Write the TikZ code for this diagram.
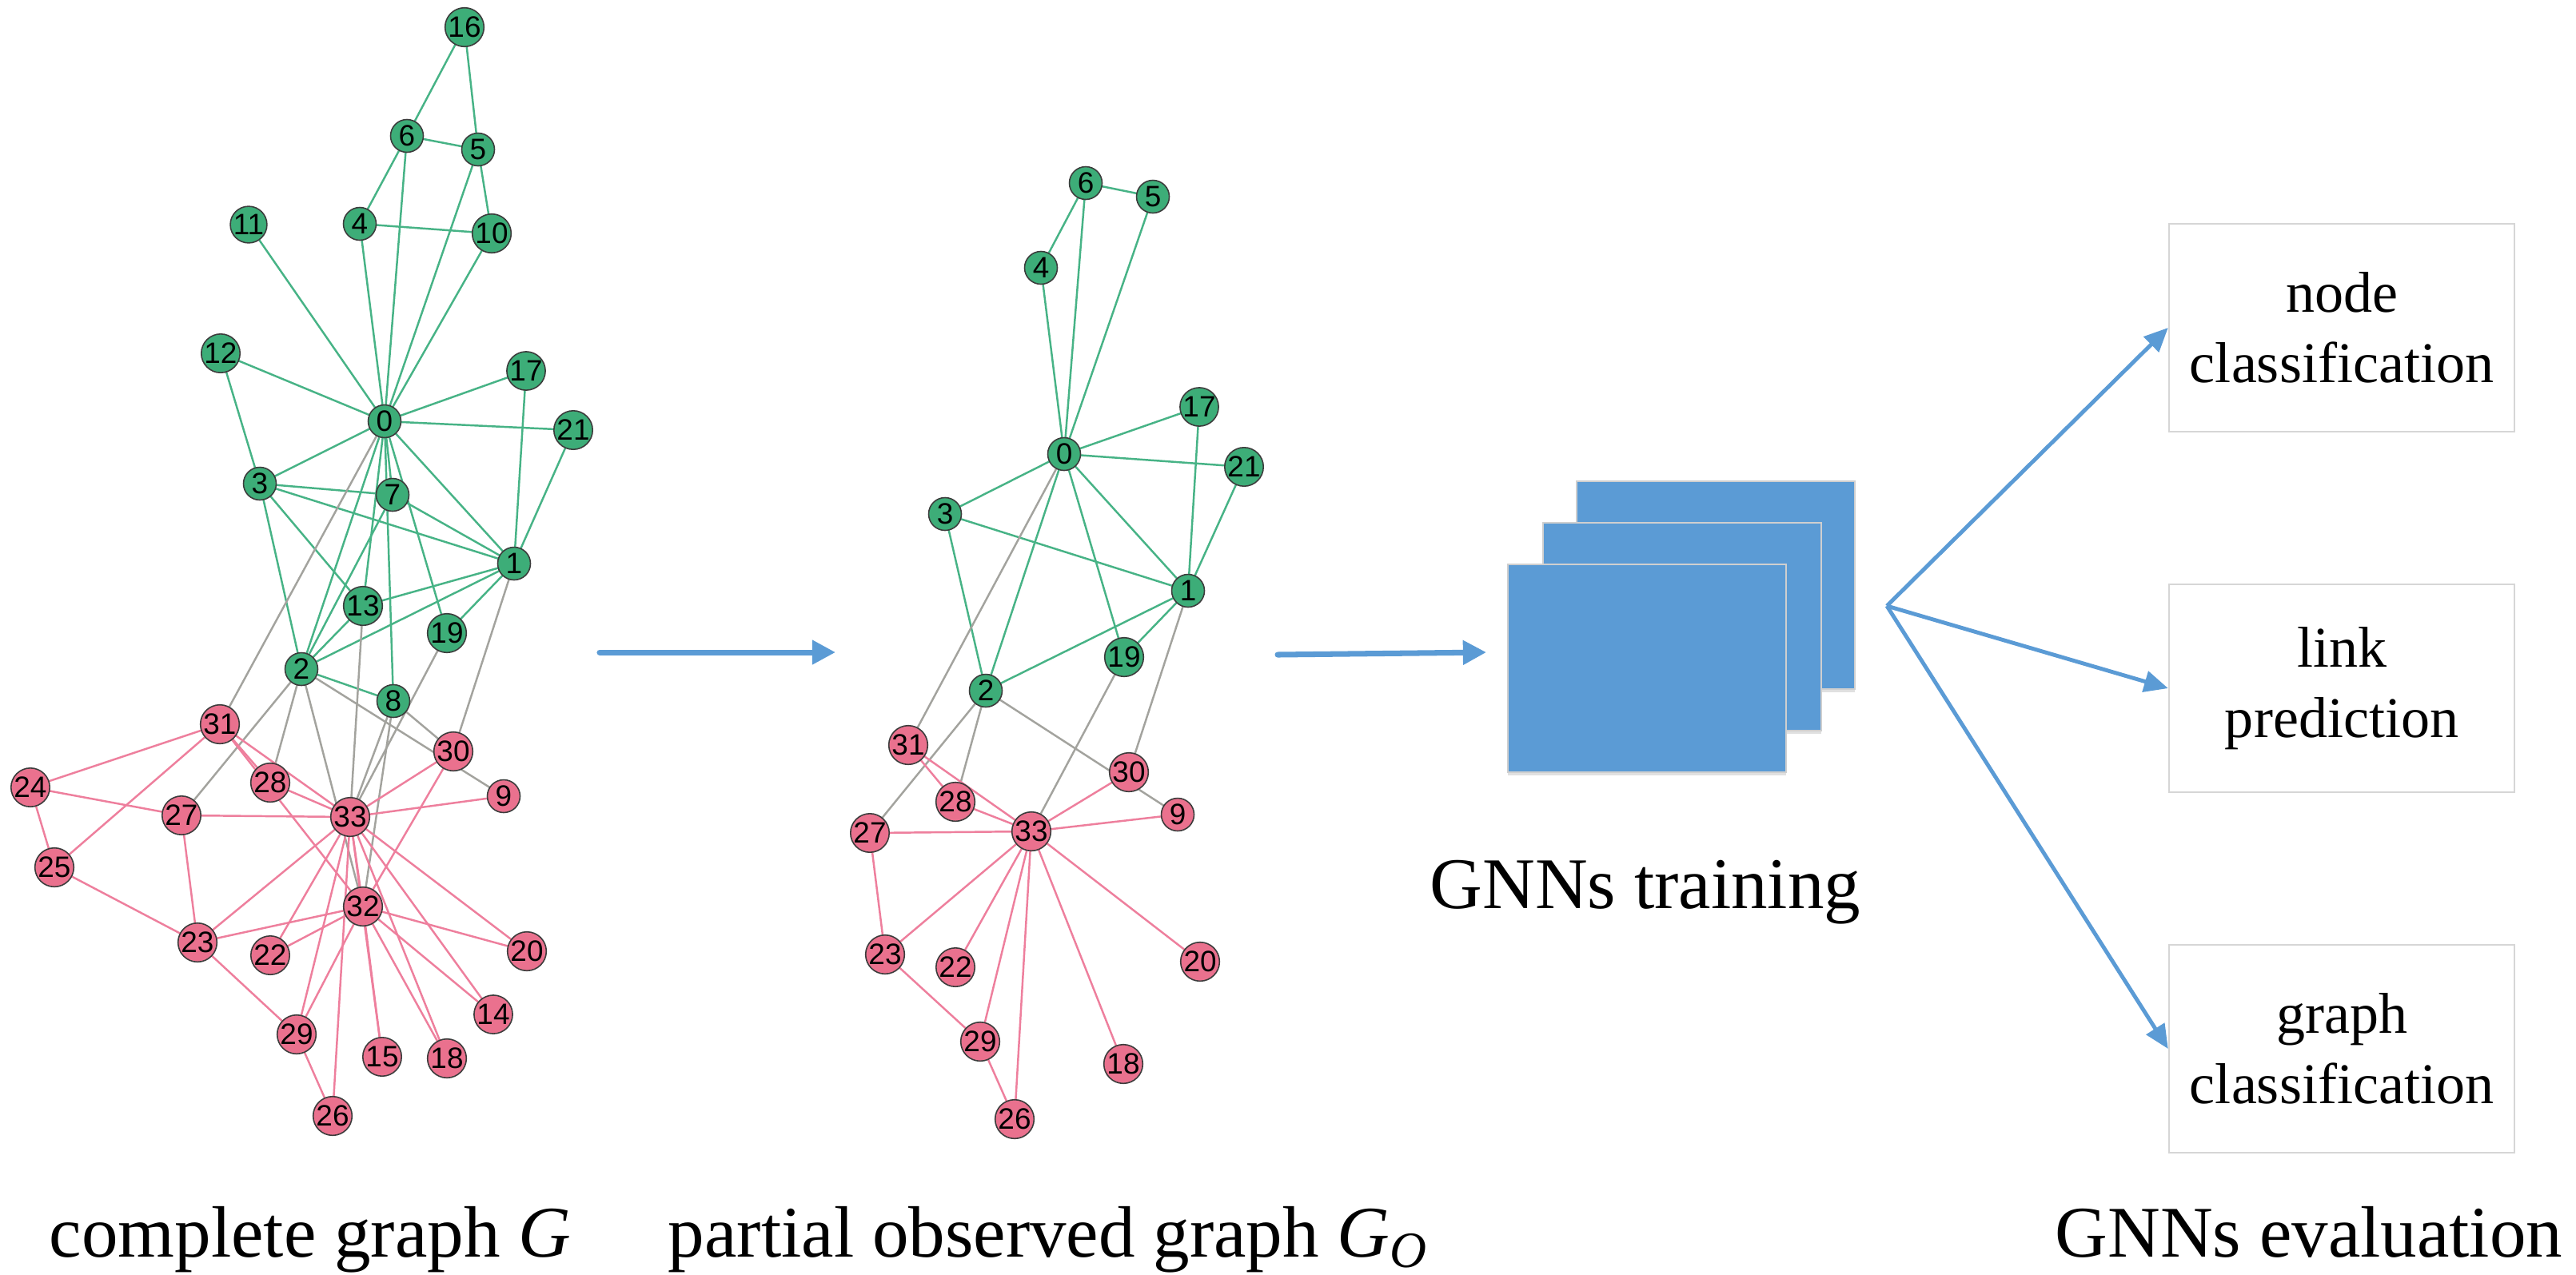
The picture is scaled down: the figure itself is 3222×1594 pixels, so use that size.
\documentclass[tikz,border=0pt]{standalone}
\usepackage{fontspec}
\setmainfont{Liberation Serif}
\newfontfamily\lblfont{Liberation Sans}
\usetikzlibrary{arrows.meta,shadows}
\pgfdeclarelayer{edges}
\pgfsetlayers{edges,main}
\definecolor{ngreen}{HTML}{3DAD78}
\definecolor{npink}{HTML}{EA718E}
\definecolor{egreen}{HTML}{47B386}
\definecolor{epink}{HTML}{EE7F9D}
\definecolor{egray}{HTML}{A3A39E}
\definecolor{nodeline}{HTML}{3C3C3C}
\definecolor{cblue}{HTML}{5B9BD5}
\definecolor{stackline}{HTML}{CFCFCF}
\definecolor{boxline}{HTML}{D6D6D6}
\begin{document}
\begin{tikzpicture}[x=0.1mm,y=-0.1mm,
  gn/.style={circle, fill=ngreen, draw=nodeline, line width=0.45pt, minimum size=4.1mm, inner sep=0pt, font=\lblfont\fontsize{10.5}{11}\selectfont},
  pn/.style={gn, fill=npink},
  ge/.style={draw=egreen, line width=0.7pt},
  pe/.style={draw=epink, line width=0.7pt},
  xe/.style={draw=egray, line width=0.7pt},
  flow/.style={draw=cblue, line width=2pt, line cap=round, -{Triangle[length=8.3pt,width=8.3pt]}},
  fork/.style={draw=cblue, line width=1.4pt, -{Triangle[length=8.5pt,width=7.5pt]}},
  layerbox/.style={rectangle, fill=cblue, draw=stackline, line width=0.6pt, minimum width=34.8mm, minimum height=26mm, inner sep=0pt, drop shadow={shadow xshift=0pt, shadow yshift=-1.2pt, opacity=0.12, fill=black}},
  task/.style={rectangle, draw=boxline, line width=0.7pt, minimum width=43.2mm, minimum height=26mm, align=center, inner sep=0pt, font=\fontsize{20.5}{25}\selectfont},
  caption/.style={anchor=base, inner sep=0pt, font=\fontsize{25.9}{30}\selectfont}
]
\useasboundingbox (0,0) rectangle (3222,1594);
\begin{pgfonlayer}{edges}
\fill[white] (0,0) rectangle (3222,1594);
\end{pgfonlayer}

% ---------- complete graph ----------
\foreach \n/\x/\y in {0/481/527,1/643/705,2/377/837,3/325/605,4/450/280,5/598/187,6/509/170,7/491/619,8/492/877,10/615/292,11/311/281,12/276/442,13/454/758,16/581/34,17/658/464,19/559/792,21/717/538}
  \node[gn] (a\n) at (\x,\y) {\n};
\foreach \n/\x/\y in {9/630/996,14/617/1269,15/478/1322,18/559/1324,20/659/1190,22/338/1195,23/247/1179,24/38/985,25/68/1085,26/416/1396,27/227/1020,28/338/979,29/371/1294,30/567/940,31/275/906,32/454/1134,33/438/1022}
  \node[pn] (a\n) at (\x,\y) {\n};

\begin{pgfonlayer}{edges}
\foreach \u/\v in {0/1,0/2,0/3,0/4,0/5,0/6,0/7,0/8,0/10,0/11,0/12,0/13,0/17,0/19,0/21,1/2,1/3,1/7,1/13,1/17,1/19,1/21,2/3,2/7,2/8,2/13,3/7,3/12,3/13,4/6,4/10,5/6,5/10,5/16,6/16}
  \draw[ge] (a\u.center) -- (a\v.center);
\foreach \u/\v in {0/31,1/30,2/9,2/27,2/28,2/32,8/30,8/32,8/33,13/33,19/33}
  \draw[xe] (a\u.center) -- (a\v.center);
\foreach \u/\v in {9/33,14/32,14/33,15/32,15/33,18/32,18/33,20/32,20/33,22/32,22/33,23/25,23/27,23/29,23/32,23/33,24/25,24/27,24/31,25/31,26/29,26/33,27/33,28/31,28/33,29/32,29/33,30/32,30/33,31/32,31/33,32/33}
  \draw[pe] (a\u.center) -- (a\v.center);
\end{pgfonlayer}

% ---------- partial observed graph ----------
\foreach \n/\x/\y in {0/1331/568,1/1486/739,2/1233/864,3/1182/643,4/1302/335,5/1442/246,6/1358/229,17/1500/509,19/1406/822,21/1556/584}
  \node[gn] (b\n) at (\x,\y) {\n};
\foreach \n/\x/\y in {9/1473/1019,18/1405/1331,20/1501/1203,22/1195/1210,23/1107/1194,26/1269/1400,27/1088/1042,28/1195/1003,29/1226/1303,30/1412/966,31/1136/932,33/1290/1040}
  \node[pn] (b\n) at (\x,\y) {\n};

\begin{pgfonlayer}{edges}
\foreach \u/\v in {0/1,0/2,0/3,0/4,0/5,0/6,0/17,0/19,0/21,1/2,1/3,1/17,1/19,1/21,2/3,4/6,5/6}
  \draw[ge] (b\u.center) -- (b\v.center);
\foreach \u/\v in {0/31,1/30,2/9,2/27,2/28,19/33}
  \draw[xe] (b\u.center) -- (b\v.center);
\foreach \u/\v in {9/33,18/33,20/33,22/33,23/27,23/29,23/33,26/29,26/33,27/33,28/31,28/33,29/33,30/33,31/33}
  \draw[pe] (b\u.center) -- (b\v.center);
\end{pgfonlayer}

% ---------- arrows between stages ----------
\coordinate (f1s) at (750,816);
\coordinate (f1e) at (1045,816);
\draw[flow] (f1s) -- (f1e);
\coordinate (f2s) at (1598,819);
\coordinate (f2e) at (1859,816);
\draw[flow] (f2s) -- (f2e);

% ---------- GNN stack ----------
\node[layerbox] (s3) at (2146,732) {};
\node[layerbox] (s2) at (2104,784) {};
\node[layerbox] (s1) at (2060,836) {};
\node[caption] (capT) at (2058,1136) {GNNs training};

% ---------- tasks ----------
\node[task] (t1) at (2929,410) {node\\classification};
\node[task] (t2) at (2929,861) {link\\prediction};
\node[task] (t3) at (2929,1312) {graph\\classification};
\coordinate (fk) at (2360,758);
\draw[fork] (fk) -- (t1.west);
\draw[fork] (fk) -- (t2.west);
\draw[fork] (fk) -- (t3.west);

% ---------- captions ----------
\node[caption] (capA) at (388,1572) {complete graph \textit{G}};
\node[caption] (capB) at (1311,1572) {partial observed graph \textit{G}\textsubscript{\textit{O}}};
\node[caption] (capC) at (2888,1572) {GNNs evaluation};
\end{tikzpicture}
\end{document}
